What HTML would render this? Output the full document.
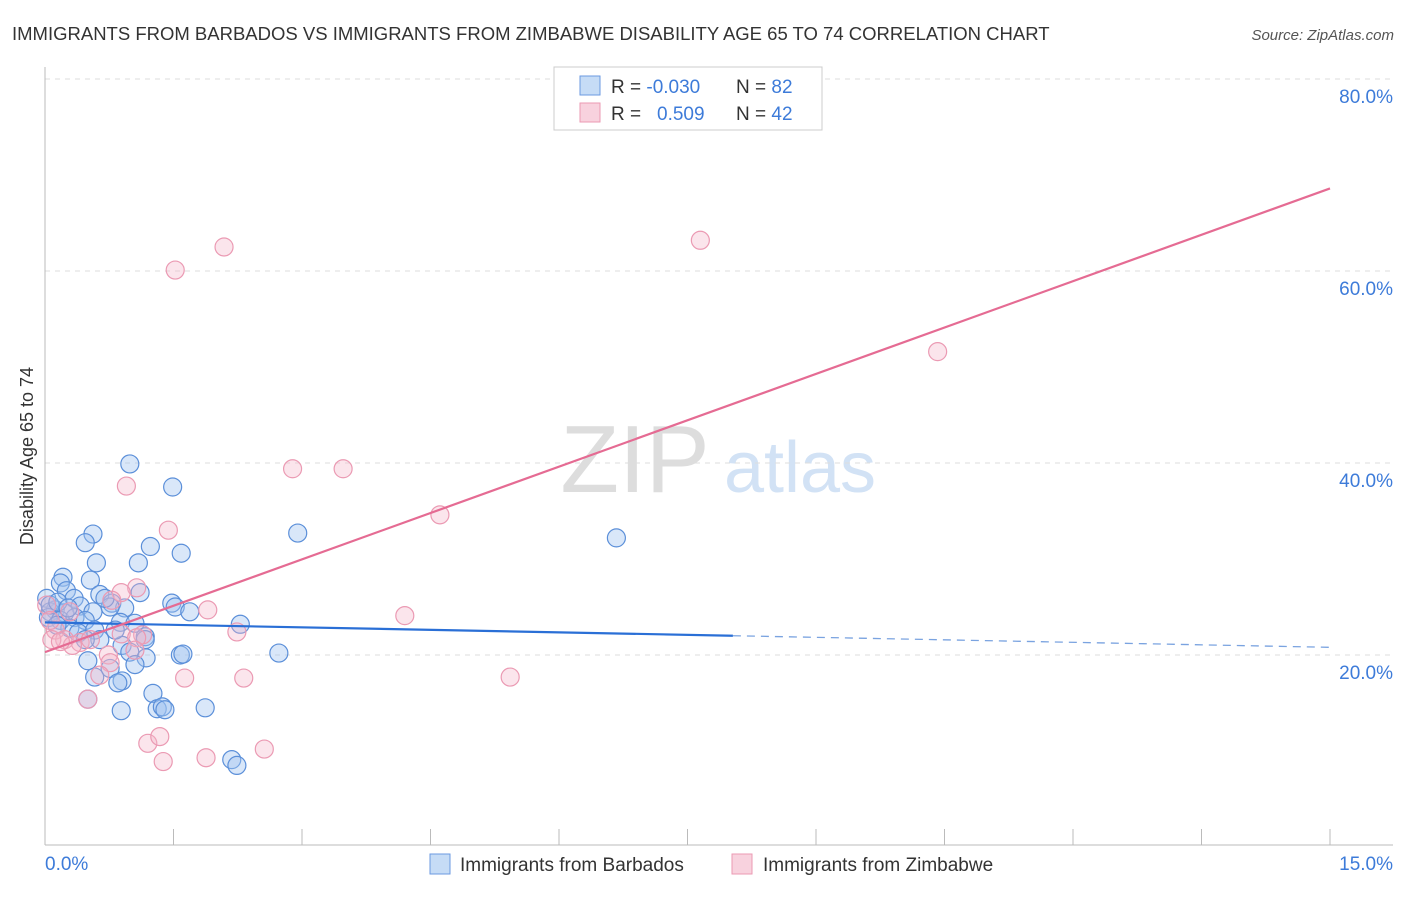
<!DOCTYPE html>
<html><head><meta charset="utf-8"><style>
body{margin:0;background:#fff;font-family:"Liberation Sans",sans-serif;}
svg text{font-family:"Liberation Sans",sans-serif;}
</style></head><body>
<svg id="c" width="1406" height="892" xmlns="http://www.w3.org/2000/svg">
<text x="12" y="40" font-size="18.5" fill="#333">IMMIGRANTS FROM BARBADOS VS IMMIGRANTS FROM ZIMBABWE DISABILITY AGE 65 TO 74 CORRELATION CHART</text>
<text x="1394" y="40" font-size="15" fill="#555" font-style="italic" text-anchor="end">Source: ZipAtlas.com</text>
<text x="33" y="456" font-size="18" fill="#333" text-anchor="middle" transform="rotate(-90 33 456)">Disability Age 65 to 74</text>
<g><text x="635" y="492" font-size="96" fill="#ddd" font-family="Liberation Serif" text-anchor="middle">ZIP</text><text x="800" y="492" font-size="72" fill="#d2e2f5" text-anchor="middle">atlas</text></g>
<g id="grid"></g><g id="marks"></g>
<g>
<rect x="554" y="67" width="268" height="63" fill="#fff" stroke="#ccc"/>
<rect x="580" y="76" width="20" height="19" fill="rgba(160,196,240,0.6)" stroke="#6b9ae0"/>
<rect x="580" y="103" width="20" height="19" fill="rgba(244,180,200,0.6)" stroke="#eb9ab3"/>
<text x="611" y="93" font-size="19" fill="#333">R = <tspan fill="#3d7bd9">-0.030</tspan></text>
<text x="736" y="93" font-size="19" fill="#333">N = <tspan fill="#3d7bd9">82</tspan></text>
<text x="611" y="120" font-size="19" fill="#333">R = <tspan fill="#3d7bd9" x="657">0.509</tspan></text>
<text x="736" y="120" font-size="19" fill="#333">N = <tspan fill="#3d7bd9">42</tspan></text>
</g>
<g>
<rect x="430" y="854" width="20" height="20" fill="rgba(160,196,240,0.6)" stroke="#6b9ae0"/>
<text x="460" y="871" font-size="19" fill="#333">Immigrants from Barbados</text>
<rect x="732" y="854" width="20" height="20" fill="rgba(244,180,200,0.6)" stroke="#eb9ab3"/>
<text x="763" y="871" font-size="19" fill="#333">Immigrants from Zimbabwe</text>
</g>
</svg>
<script>
const xTicks=[0,15];
const yTicks=[20,40,60,80];
const blueX=[0.99,1.49,0.56,0.47,1.23,1.59,2.95,6.67,0.60,1.09,0.21,0.53,0.18,0.25,1.11,0.34,0.64,0.78,0.02,1.48,1.52,1.69,0.93,0.76,0.41,0.12,0.06,0.23,0.56,0.04,0.18,0.35,0.47,0.88,2.28,1.05,0.29,0.39,0.58,1.17,0.14,0.64,0.90,0.99,1.58,1.61,2.73,1.18,0.50,0.76,1.05,0.58,0.90,0.85,1.26,0.50,1.31,1.37,1.40,0.89,1.87,2.18,2.24,0.06,0.15,0.27,0.70,1.17,0.47,0.82];
const blueY=[39.9,37.5,32.6,31.7,31.3,30.6,32.7,32.2,29.6,29.6,28.1,27.8,27.5,26.7,26.5,25.9,26.3,25.4,25.9,25.4,25.0,24.5,24.9,25.0,25.1,24.7,24.5,24.4,24.5,23.9,23.6,23.9,23.6,23.4,23.2,23.3,22.8,22.3,22.6,21.9,23.1,21.6,21.0,20.3,20.0,20.1,20.2,19.7,19.4,18.6,19.0,17.7,17.3,17.1,16.0,15.4,14.4,14.6,14.3,14.2,14.5,9.1,8.5,25.2,25.5,24.9,25.9,21.6,21.6,22.6];
const pinkX=[2.09,1.52,7.65,10.42,2.89,3.48,0.95,4.61,1.44,1.07,0.89,0.78,1.90,4.20,2.24,0.89,1.14,1.07,0.12,0.23,0.41,0.32,0.08,0.53,0.74,0.76,0.64,1.63,2.32,5.43,0.50,1.20,1.34,1.38,1.88,2.56,0.02,0.06,0.29,0.18,1.05];
const pinkY=[62.5,60.1,63.2,51.6,39.4,39.4,37.6,34.6,33.0,27.0,26.5,25.7,24.7,24.1,22.4,22.2,22.1,21.8,22.6,21.6,21.3,21.0,21.6,21.6,20.0,19.2,17.9,17.6,17.6,17.7,15.4,10.8,11.5,8.9,9.3,10.2,25.2,23.6,24.5,21.4,20.5];
const blueTrend=[23.4,20.8];
const blueSolidEnd=8.03;
const pinkTrend=[20.3,68.6];
const X0=45,X1=1330,Y0=847,PPU=9.6;
function sx(v){return X0+(v-xTicks[0])/(xTicks[1]-xTicks[0])*(X1-X0);}
function sy(v){return Y0-v*PPU;}
const NS="http://www.w3.org/2000/svg";
function mk(t,a,p){const e=document.createElementNS(NS,t);for(const k in a)e.setAttribute(k,a[k]);p.appendChild(e);return e;}
const grid=document.getElementById('grid'),marks=document.getElementById('marks');
yTicks.forEach(t=>{
 const l=mk('line',{x1:45,x2:1393,y1:sy(t),y2:sy(t),stroke:'#ddd','stroke-dasharray':'5,5'},grid);
 
 
 const tx=mk('text',{x:1393,y:sy(t)+24,'font-size':19,fill:'#3d7bd9','text-anchor':'end'},grid);
 tx.textContent=t.toFixed(1)+'%';
 
 
});
const ax=mk('line',{x1:45,x2:45,y1:67,y2:845,stroke:'#bbb'},grid);


const bx=mk('line',{x1:45,x2:1393,y1:845,y2:845,stroke:'#bbb'},grid);


for(let i=0;i<=10;i++){const v=xTicks[0]+i*(xTicks[1]-xTicks[0])/10;
 const t=mk('line',{x1:sx(v),x2:sx(v),y1:829,y2:845,stroke:'#bbb'},grid);
 
 }
xTicks.forEach((v,i)=>{const t=mk('text',{x:i?1393:45,y:870,'font-size':19,fill:'#3d7bd9','text-anchor':i?'end':'start'},grid);
 t.textContent=v.toFixed(1)+'%';
 
 });
blueX.forEach((x,i)=>{const c=mk('circle',{cx:sx(x),cy:sy(blueY[i]),r:9,fill:'rgba(160,196,240,0.4)',stroke:'#5b8fd9','stroke-width':1.2},marks);
 
 });
pinkX.forEach((x,i)=>{const c=mk('circle',{cx:sx(x),cy:sy(pinkY[i]),r:9,fill:'rgba(244,180,200,0.35)',stroke:'#eb9ab3','stroke-width':1.2},marks);
 
 });
function ty(tr,x){return tr[0]+(tr[1]-tr[0])*(x-xTicks[0])/(xTicks[1]-xTicks[0]);}
const b1=mk('line',{x1:sx(0),y1:sy(ty(blueTrend,0)),x2:sx(blueSolidEnd),y2:sy(ty(blueTrend,blueSolidEnd)),stroke:'#2a6fd6','stroke-width':2.2},marks);


const b2=mk('line',{x1:sx(blueSolidEnd),y1:sy(ty(blueTrend,blueSolidEnd)),x2:sx(15),y2:sy(ty(blueTrend,15)),stroke:'#7aa3e0','stroke-width':1.3,'stroke-dasharray':'8,6'},marks);


const p1=mk('line',{x1:sx(0),y1:sy(pinkTrend[0]),x2:sx(15),y2:sy(pinkTrend[1]),stroke:'#e56b93','stroke-width':2.2},marks);


</script>
</body></html>
